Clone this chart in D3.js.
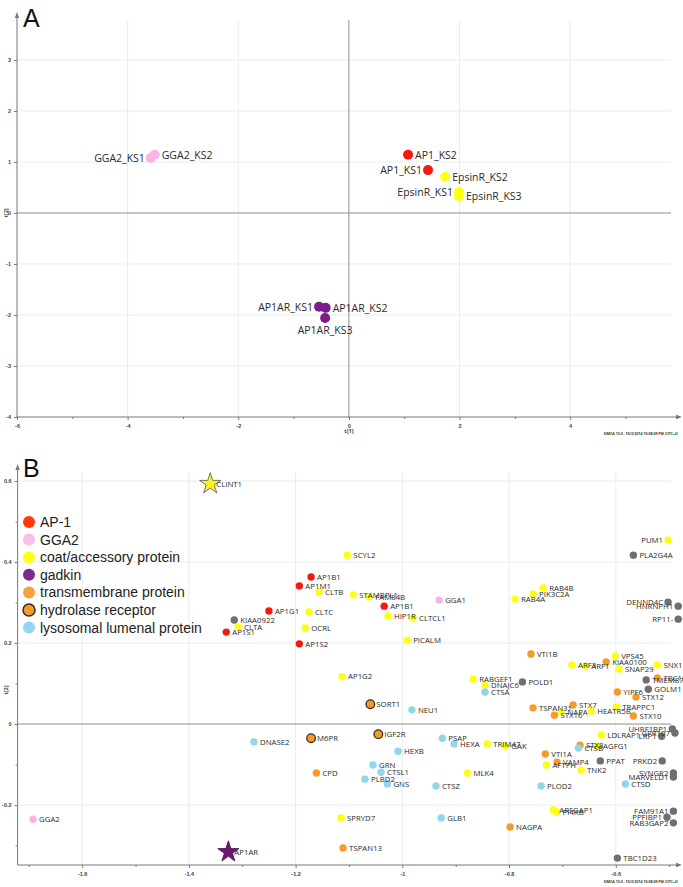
<!DOCTYPE html>
<html>
<head>
<meta charset="utf-8">
<script src="https://cdn.jsdelivr.net/npm/d3@7"></script>
<style>
body { margin: 0; background: #fff; }
svg { font-family: "Open Sans", "DejaVu Sans", sans-serif; }
</style>
</head>
<body>
<svg id="chart" width="683" height="887"></svg>
<script>
// ---- panel A : score plot of the replicates ----
var aNames = ["GGA2_KS1", "GGA2_KS2", "AP1_KS2", "AP1_KS1", "EpsinR_KS2", "EpsinR_KS1", "EpsinR_KS3", "AP1AR_KS1", "AP1AR_KS2", "AP1AR_KS3"];
var aX = [-3.58, -3.51, 1.07, 1.43, 1.74, 1.99, 1.99, -0.54, -0.42, -0.43];
var aY = [1.08, 1.14, 1.14, 0.84, 0.71, 0.41, 0.33, -1.84, -1.86, -2.06];
var aGroup = ["gga2", "gga2", "ap1", "ap1", "coat", "coat", "coat", "gadkin", "gadkin", "gadkin"];
var aXTicks = [-6, -4, -2, 0, 2, 4];
var aXMinor = [-5, -3, -1, 1, 3, 5];
var aYTicks = [-4, -3, -2, -1, 0, 1, 2, 3];

// ---- panel B : loadings ----
var bNames = ["CLINT1", "SCYL2", "AP1B1", "AP1M1", "CLTB", "STAMBPL1", "FAM84B", "AP1B1", "GGA1", "AP1G1",
  "CLTC", "HIP1R", "CLTCL1", "KIAA0922", "CLTA", "OCRL", "AP1S1", "AP1S2", "PICALM", "PUM1",
  "PLA2G4A", "RAB4B", "PIK3C2A", "RAB4A", "DENND4C", "HNRNPH1", "RP11-", "VTI1B", "VPS45", "ARF3",
  "ARF1", "KIAA0100", "SNAP29", "SNX1", "TMEM87A", "TBC1D22", "YIPF6", "GOLM1", "STX12", "AP1G2",
  "RABGEF1", "DNAJC6", "CTSA", "POLD1", "SORT1", "NEU1", "TSPAN31", "STX7", "NAPA", "STX16",
  "HEATR5B", "TRAPPC1", "STX10", "UHRF1BP1", "GPR107", "LDLRAP1", "LRP1", "AGFG1", "STX8", "CTSB",
  "DNASE2", "M6PR", "IGF2R", "PSAP", "HEXA", "HEXB", "TRIM47", "GAK", "VTI1A", "VAMP4",
  "AFTPH", "PPAT", "TNK2", "PRKD2", "SYNGR2", "MARVELD1", "CPD", "GRN", "CTSL1", "PLBD2",
  "GNS", "MLK4", "CTSZ", "PLOD2", "CTSD", "GGA2", "SPRYD7", "GLB1", "ARFGAP1", "PI4KB",
  "NAGPA", "FAM91A1", "PPFIBP1", "RAB3GAP2", "TSPAN13", "AP1AR", "TBC1D23"];
var bX = [-1.360, -1.103, -1.171, -1.193, -1.156, -1.092, -1.062, -1.034, -0.931, -1.250,
  -1.175, -1.027, -0.980, -1.315, -1.308, -1.182, -1.330, -1.193, -0.991, -0.502,
  -0.567, -0.736, -0.755, -0.789, -0.502, -0.483, -0.483, -0.759, -0.601, -0.682,
  -0.657, -0.618, -0.594, -0.522, -0.543, -0.522, -0.597, -0.539, -0.562, -1.113,
  -0.867, -0.845, -0.845, -0.775, -1.060, -0.982, -0.755, -0.680, -0.702, -0.715,
  -0.646, -0.599, -0.567, -0.494, -0.489, -0.627, -0.514, -0.635, -0.667, -0.670,
  -1.278, -1.171, -1.045, -0.925, -0.903, -1.008, -0.841, -0.807, -0.732, -0.710,
  -0.730, -0.629, -0.665, -0.513, -0.492, -0.492, -1.161, -1.055, -1.040, -1.070,
  -1.028, -0.878, -0.937, -0.740, -0.582, -1.692, -1.115, -0.927, -0.717, -0.711,
  -0.798, -0.492, -0.504, -0.492, -1.111, -1.326, -0.597];
var bY = [0.593, 0.417, 0.363, 0.341, 0.326, 0.319, 0.314, 0.291, 0.306, 0.279,
  0.277, 0.267, 0.262, 0.257, 0.240, 0.237, 0.227, 0.198, 0.207, 0.454,
  0.417, 0.336, 0.321, 0.309, 0.301, 0.291, 0.259, 0.173, 0.168, 0.146,
  0.143, 0.153, 0.136, 0.146, 0.109, 0.114, 0.079, 0.086, 0.067, 0.117,
  0.111, 0.096, 0.079, 0.104, 0.049, 0.035, 0.040, 0.047, 0.030, 0.022,
  0.032, 0.042, 0.020, -0.012, -0.022, -0.027, -0.030, -0.054, -0.052, -0.059,
  -0.044, -0.035, -0.025, -0.035, -0.049, -0.067, -0.049, -0.054, -0.074, -0.094,
  -0.101, -0.091, -0.114, -0.091, -0.121, -0.131, -0.121, -0.101, -0.119, -0.136,
  -0.148, -0.121, -0.153, -0.153, -0.148, -0.235, -0.232, -0.232, -0.212, -0.217,
  -0.254, -0.215, -0.230, -0.244, -0.306, -0.316, -0.331];
var bGroup = ["coat", "coat", "ap1", "ap1", "coat", "coat", "coat", "ap1", "gga2", "ap1",
  "coat", "coat", "coat", "other", "coat", "coat", "ap1", "ap1", "coat", "coat",
  "other", "coat", "coat", "coat", "other", "other", "other", "tm", "coat", "coat",
  "coat", "tm", "coat", "coat", "other", "tm", "tm", "other", "tm", "coat",
  "coat", "coat", "lyso", "other", "hr", "lyso", "tm", "tm", "coat", "tm",
  "coat", "coat", "tm", "other", "other", "coat", "other", "coat", "tm", "lyso",
  "lyso", "hr", "hr", "lyso", "lyso", "lyso", "coat", "coat", "tm", "tm",
  "coat", "other", "coat", "other", "other", "other", "tm", "lyso", "lyso", "lyso",
  "lyso", "coat", "lyso", "lyso", "lyso", "gga2", "coat", "lyso", "coat", "coat",
  "tm", "other", "other", "other", "tm", "gadkin", "other"];
var bStars = ["CLINT1", "AP1AR"];
var bXTicks = [-1.6, -1.4, -1.2, -1, -0.8, -0.6];
var bXMinor = [-1.7, -1.5, -1.3, -1.1, -0.9, -0.7, -0.5];
var bYTicks = [-0.2, 0, 0.2, 0.4, 0.6];
var bYMinor = [-0.3, -0.1, 0.1, 0.3, 0.5];

var legendKeys = ["ap1", "gga2", "coat", "gadkin", "tm", "hr", "lyso"];
var legendLabels = ["AP-1", "GGA2", "coat/accessory protein", "gadkin", "transmembrane protein", "hydrolase receptor", "lysosomal lumenal protein"];

var stamp = "SIMCA 13.0 - 10/2/2014 10:08:09 PM (UTC+2)";

// colours
var color = d3.scaleOrdinal()
    .domain(["ap1", "gga2", "coat", "gadkin", "tm", "hr", "lyso", "other"])
    .range(["#f41a12", "#f7b4e4", "#ffff14", "#7d1d8c", "#f49b2c", "#f49b2c", "#8fd6ee", "#6f6f6f"]);
var legendColor = d3.scaleOrdinal()
    .domain(legendKeys)
    .range(["#ff3a0a", "#f9bcec", "#ffff14", "#7b2a8e", "#f4a43c", "#f49b2c", "#8fd6ee"]);

var fmt = function(d) { return String(+d.toFixed(1)); };

var svg = d3.select("#chart");

var xA = d3.scaleLinear().domain([-6, 6.04]).range([17, 683]);
var yA = d3.scaleLinear().domain([-4, 3.94]).range([417, 12]);
var xB = d3.scaleLinear().domain([-1.721, -0.474]).range([17.6, 683]);
var yB = d3.scaleLinear().domain([-0.348, 0.642]).range([865, 464]);

function drawFrame(x, y, xTicks, xMinor, yTicks, yMinor, yTitleAt) {
    var g = svg.append("g");
    var x0 = x.range()[0], x1 = x.range()[1], yb = y.range()[0], yt = y.range()[1];

    // light grid
    g.selectAll(".vgrid")
        .data(xTicks.filter(function(d) { return d !== 0 && x(d) > x0 + 3; }))
        .enter().append("line")
        .attr("x1", function(d) { return x(d); }).attr("x2", function(d) { return x(d); })
        .attr("y1", yt + 8).attr("y2", yb)
        .attr("stroke", "#ececec");
    g.selectAll(".hgrid")
        .data(yTicks.filter(function(d) { return d !== 0 && y(d) < yb - 3; }))
        .enter().append("line")
        .attr("x1", x0).attr("x2", x1 - 12)
        .attr("y1", function(d) { return y(d); }).attr("y2", function(d) { return y(d); })
        .attr("stroke", "#ececec");

    // zero lines
    g.append("line").attr("x1", x(0)).attr("x2", x(0)).attr("y1", yt + 8).attr("y2", yb)
        .attr("stroke", "#8e8e8e");
    g.append("line").attr("x1", x0).attr("x2", x1 - 12).attr("y1", y(0)).attr("y2", y(0))
        .attr("stroke", "#8e8e8e");

    // axes
    var xAxis = g.append("g").attr("transform", "translate(0," + yb + ")")
        .call(d3.axisBottom(x).tickValues(xTicks).tickSize(3).tickSizeOuter(0).tickFormat(fmt));
    g.append("g").attr("transform", "translate(0," + yb + ")")
        .call(d3.axisBottom(x).tickValues(xMinor.filter(function(d) { return x(d) < x1 - 6; })).tickSize(2).tickFormat(""))
        .select(".domain").remove();
    var yAxis = g.append("g").attr("transform", "translate(" + x0 + ",0)")
        .call(d3.axisLeft(y).tickValues(yTicks).tickSize(3).tickSizeOuter(0).tickFormat(fmt));
    if (yMinor) {
        g.append("g").attr("transform", "translate(" + x0 + ",0)")
            .call(d3.axisLeft(y).tickValues(yMinor).tickSize(2).tickFormat(""))
            .select(".domain").remove();
    }
    g.selectAll(".domain").remove();
    g.selectAll(".tick line").attr("stroke", "#777");
    g.selectAll(".tick text").attr("font-size", 5.5).attr("font-weight", "bold").attr("fill", "#444");
    xAxis.selectAll(".tick text").attr("dy", "0.9em");

    // axis lines with arrows
    g.append("line").attr("x1", x0).attr("x2", x1 - 4).attr("y1", yb).attr("y2", yb).attr("stroke", "#777");
    g.append("path").attr("d", "M" + (x1 - 1) + "," + yb + "l-6,-2.2v4.4z").attr("fill", "#777");
    g.append("line").attr("x1", x0).attr("x2", x0).attr("y1", yb).attr("y2", yt + 3).attr("stroke", "#777");
    g.append("path").attr("d", "M" + x0 + "," + yt + "l-2.2,6h4.4z").attr("fill", "#777");

    // axis titles and stamp
    g.append("text").attr("x", x(0)).attr("y", yb + 16).attr("text-anchor", "middle")
        .attr("font-size", 5.5).attr("font-weight", "bold").attr("fill", "#444").text("t[1]");
    g.append("text").attr("transform", "translate(8," + yTitleAt + ") rotate(-90)")
        .attr("text-anchor", "middle").attr("font-size", 5.5).attr("font-weight", "bold")
        .attr("fill", "#444").text("t[2]");
    g.append("text").attr("x", 678).attr("y", Math.min(yb + 18, 884)).attr("text-anchor", "end")
        .attr("font-size", 3.5).attr("font-weight", "bold").attr("fill", "#333").text(stamp);
}

// ---------- A ----------
drawFrame(xA, yA, aXTicks, aXMinor, aYTicks, null, yA(0));

var aLeft = ["GGA2_KS1", "AP1_KS1", "EpsinR_KS1", "AP1AR_KS1"];
var aBelow = ["AP1AR_KS3"];

var aData = aNames.map(function(n, i) { return {name: n, x: aX[i], y: aY[i], group: aGroup[i]}; });
var gA = svg.append("g");
gA.selectAll("circle").data(aData).enter().append("circle")
    .attr("cx", function(d) { return xA(d.x); })
    .attr("cy", function(d) { return yA(d.y); })
    .attr("r", 5)
    .attr("fill", function(d) { return color(d.group); });
gA.selectAll("text").data(aData).enter().append("text")
    .attr("x", function(d) {
        if (aBelow.indexOf(d.name) >= 0) return xA(d.x);
        return aLeft.indexOf(d.name) >= 0 ? xA(d.x) - 6 : xA(d.x) + 7;
    })
    .attr("y", function(d) { return yA(d.y) + (aBelow.indexOf(d.name) >= 0 ? 16 : 4); })
    .attr("text-anchor", function(d) {
        if (aBelow.indexOf(d.name) >= 0) return "middle";
        return aLeft.indexOf(d.name) >= 0 ? "end" : "start";
    })
    .attr("font-size", 10.5)
    .attr("fill", "#2a2a2a")
    .text(function(d) { return d.name; });

svg.append("text").attr("x", 23).attr("y", 27).attr("font-size", 25)
    .attr("font-family", "Liberation Sans, Arial, sans-serif").attr("fill", "#111").text("A");

// ---------- B ----------
drawFrame(xB, yB, bXTicks, bXMinor, bYTicks, bYMinor, 690);

var bData = bNames.map(function(n, i) { return {name: n, x: bX[i], y: bY[i], group: bGroup[i]}; });
var gB = svg.append("g");
var star = d3.symbol().type(d3.symbolStar).size(140);

gB.selectAll(".dot").data(bData.filter(function(d) { return bStars.indexOf(d.name) < 0; }))
    .enter().append("circle")
    .attr("cx", function(d) { return xB(d.x); })
    .attr("cy", function(d) { return yB(d.y); })
    .attr("r", function(d) { return d.group === "hr" ? 4.3 : 3.7; })
    .attr("fill", function(d) { return color(d.group); })
    .attr("stroke", function(d) { return d.group === "hr" ? "#3a2a1a" : "none"; })
    .attr("stroke-width", 1.3);
gB.selectAll(".star").data(bData.filter(function(d) { return bStars.indexOf(d.name) >= 0; }))
    .enter().append("path")
    .attr("d", star)
    .attr("transform", function(d) { return "translate(" + xB(d.x) + "," + yB(d.y) + ")"; })
    .attr("fill", function(d) { return d.group === "gadkin" ? "#6a1870" : "#f6f02a"; })
    .attr("stroke", function(d) { return d.group === "gadkin" ? "#4a0f50" : "#555"; })
    .attr("stroke-width", 0.8);
gB.selectAll("text").data(bData).enter().append("text")
    .attr("x", function(d) { return xB(d.x) > 660 ? xB(d.x) - 5 : xB(d.x) + 6; })
    .attr("y", function(d) { return yB(d.y) + 2.8; })
    .attr("text-anchor", function(d) { return xB(d.x) > 660 ? "end" : "start"; })
    .attr("font-size", 7.8)
    .attr("fill", "#2a2a2a")
    .text(function(d) { return d.name; });

svg.append("text").attr("x", 23).attr("y", 477).attr("font-size", 25)
    .attr("font-family", "Liberation Sans, Arial, sans-serif").attr("fill", "#111").text("B");

// legend
var leg = svg.append("g").attr("font-family", "Liberation Sans, Arial, sans-serif");
legendKeys.forEach(function(k, i) {
    var cy = 522 + i * 17.6;
    leg.append("circle").attr("cx", 29).attr("cy", cy).attr("r", 6)
        .attr("fill", legendColor(k))
        .attr("stroke", k === "hr" ? "#3a2a1a" : "none").attr("stroke-width", 1.5);
    leg.append("text").attr("x", 40).attr("y", cy + 5).attr("font-size", 14)
        .attr("fill", "#222").text(legendLabels[i]);
});
</script>
</body>
</html>
